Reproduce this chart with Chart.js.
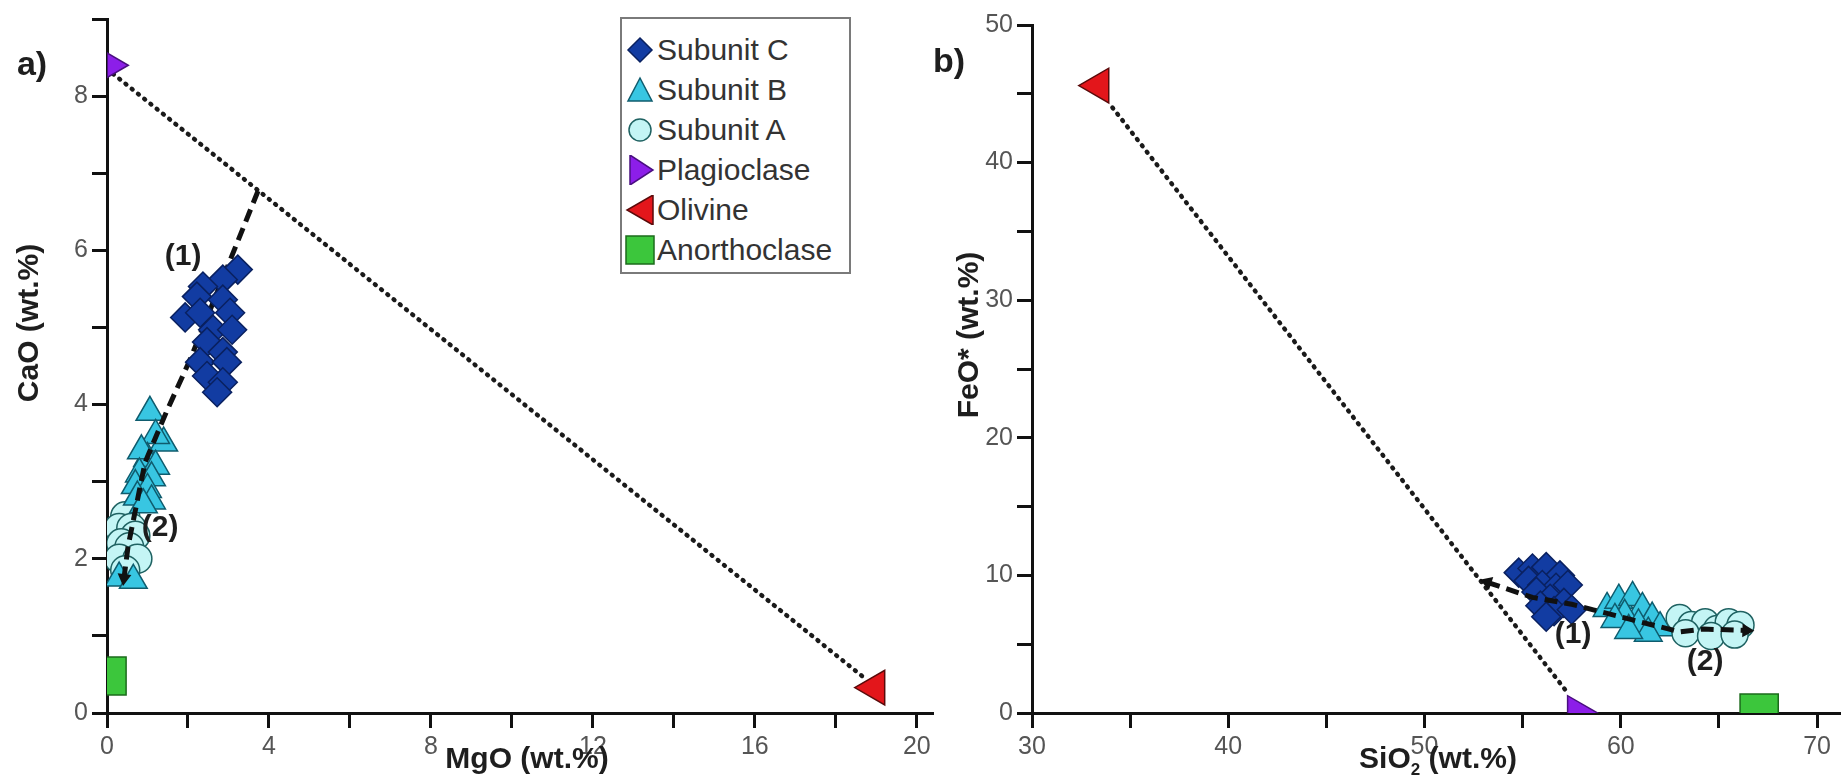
<!DOCTYPE html>
<html>
<head>
<meta charset="utf-8">
<title>CaO vs MgO and FeO* vs SiO2</title>
<script src="https://cdn.jsdelivr.net/npm/chart.js@4.4.1/dist/chart.umd.min.js"></script>
<style>
  html, body { margin: 0; padding: 0; background: #fff; }
  body { position: relative; width: 1843px; height: 783px; overflow: hidden; font-family: "Liberation Sans", Arial, sans-serif; }
  canvas { position: absolute; top: 0; }
  #chartA { left: 0; }
  #chartB { left: 900px; }
  #legend { position: absolute; left: 620px; top: 17px; width: 231px; height: 257px; box-sizing: border-box;
            border: 2px solid #7a7a7a; background: #fff; padding-top: 11px; }
  .row { height: 40px; display: flex; align-items: center; font-size: 30px; color: #333; white-space: nowrap; }
  .row svg { width: 30px; height: 30px; margin-left: 3px; margin-right: 2px; flex: none; }
</style>
</head>
<body>
<canvas id="chartA" width="940" height="783"></canvas>
<canvas id="chartB" width="943" height="783"></canvas>
<div id="legend"></div>
<script>
// ---- panel a) CaO vs MgO (wt.%) ----
const subC_MgO = [3.23, 2.86, 2.37, 2.22, 2.86, 1.93, 2.30, 3.04, 2.62, 3.09, 2.47, 2.86, 2.30, 2.96, 2.47, 2.86, 2.72];
const subC_CaO = [5.75, 5.62, 5.53, 5.40, 5.36, 5.13, 5.19, 5.19, 4.97, 4.97, 4.81, 4.68, 4.55, 4.55, 4.37, 4.29, 4.16];
const subB_MgO = [1.06, 1.40, 1.20, 1.00, 0.85, 1.20, 0.80, 1.10, 0.70, 1.00, 0.75, 1.10, 0.90, 0.30, 0.65];
const subB_CaO = [3.90, 3.50, 3.60, 3.30, 3.40, 3.20, 3.10, 3.05, 2.95, 2.90, 2.80, 2.75, 2.70, 1.75, 1.72];
const subA_MgO = [0.45, 0.30, 0.60, 0.70, 0.35, 0.55, 0.30, 0.75, 0.45];
const subA_CaO = [2.55, 2.40, 2.40, 2.30, 2.20, 2.15, 2.00, 2.00, 1.85];
const minerals = ["Plagioclase", "Olivine", "Anorthoclase"];
const mineral_MgO = [0.18, 18.96, 0];
const mineral_CaO = [8.40, 0.33, 0.48];
const mixA_MgO = [0.15, 18.67];
const mixA_CaO = [8.29, 0.47];
const trendA_MgO = [3.73, 2.05, 1.48, 0.94, 0.52, 0.42];
const trendA_CaO = [6.77, 4.58, 3.92, 3.25, 2.16, 1.75];
const notesA = ["(1)", "(2)"];
const notesA_MgO = [1.88, 1.31];
const notesA_CaO = [5.92, 2.40];
const mgoTicks = [0, 2, 4, 6, 8, 10, 12, 14, 16, 18, 20];
const mgoLabels = [0, 4, 8, 12, 16, 20];
const caoTicks = [0, 1, 2, 3, 4, 5, 6, 7, 8, 9];
const caoLabels = [0, 2, 4, 6, 8];

// ---- panel b) FeO* vs SiO2 (wt.%) ----
const subC_SiO2 = [54.8, 55.5, 56.2, 56.9, 55.3, 56.0, 56.7, 57.3, 55.7, 56.4, 57.1, 55.9, 56.6, 57.5, 56.2];
const subC_FeO = [10.2, 10.5, 10.6, 10.0, 9.6, 9.3, 9.1, 9.3, 8.8, 8.3, 8.0, 7.8, 7.4, 7.5, 7.0];
const subB_SiO2 = [59.3, 59.9, 60.6, 61.1, 60.2, 61.6, 59.7, 60.9, 62.0, 61.4, 60.4];
const subB_FeO = [7.6, 8.2, 8.4, 7.6, 7.1, 6.9, 6.8, 6.4, 6.2, 5.8, 6.0];
const subA_SiO2 = [63.0, 63.6, 64.3, 64.9, 65.5, 66.1, 63.3, 64.6, 65.8];
const subA_FeO = [6.9, 6.4, 6.6, 6.1, 6.6, 6.4, 5.8, 5.6, 5.7];
const mineral_SiO2 = [57.8, 33.4, 67.05];
const mineral_FeO = [0, 45.6, 0];
const mixB_SiO2 = [34.1, 57.3];
const mixB_FeO = [44.0, 1.45];
const trendB_SiO2 = [53.2, 55.5, 57.5, 58.6, 60.5, 63.0, 64.2, 66.4];
const trendB_FeO = [9.5, 8.4, 7.9, 7.5, 6.8, 5.9, 6.1, 6.0];
const notesB = ["(1)", "(2)"];
const notesB_SiO2 = [57.57, 64.3];
const notesB_FeO = [5.67, 3.7];
const sio2Ticks = [30, 35, 40, 45, 50, 55, 60, 65, 70];
const sio2Labels = [30, 40, 50, 60, 70];
const feoTicks = [0, 5, 10, 15, 20, 25, 30, 35, 40, 45, 50];
const feoLabels = [0, 10, 20, 30, 40, 50];

const fontFam = '"Liberation Sans", Arial, sans-serif';
const colC = ["#123ca2", "#0a2160"];
const colB = ["#38c6e2", "#0f5c6e"];
const colA = ["#c4f5f5", "#1f6262"];
const colMin = [["#8c1ee8", "#4a0f80"], ["#e3161b", "#5a0a0a"], ["#3cc63c", "#1b6b1b"]];
const minStyle = ["triangle", "triangle", "rect"];
const minRot = [90, -90, 0];

function pts(xs, ys) {
  return xs.map(function (x, i) {
    return { x: x, y: ys[i] };
  });
}

function markers(label, data, style, col, r, rot, order, clip) {
  const ds = {
    label: label,
    data: data,
    pointStyle: style,
    pointRadius: r,
    pointRotation: rot || 0,
    backgroundColor: col[0],
    borderColor: col[1],
    pointBorderWidth: 1.5,
    order: order,
  };
  if (clip !== undefined) ds.clip = clip;
  return ds;
}

function dotted(data, order) {
  return {
    label: "mix",
    data: data,
    showLine: true,
    borderColor: "#1a1a1a",
    borderWidth: 4.5,
    borderDash: [1, 7],
    borderCapStyle: "round",
    pointRadius: 0,
    order: order,
  };
}

// thick dashed trend, arrowhead drawn as a point
function dashed(data, order, radii, rots) {
  return {
    label: "trend",
    data: data,
    showLine: true,
    borderColor: "#111",
    backgroundColor: "#111",
    borderWidth: 5,
    borderDash: [13, 7],
    pointStyle: "triangle",
    pointRadius: radii,
    pointRotation: rots,
    pointBorderWidth: 0,
    order: order,
  };
}

function axis(min, max, ticks, labels, fit) {
  return {
    type: "linear",
    min: min,
    max: max,
    afterBuildTicks: function (s) {
      s.ticks = ticks.map(function (v) {
        return { value: v };
      });
    },
    afterFit: fit,
    ticks: {
      autoSkip: false,
      maxRotation: 0,
      color: "#555",
      padding: 4,
      font: { family: fontFam, size: 25 },
      callback: function (v) {
        return labels.indexOf(v) >= 0 ? String(v) : "";
      },
    },
    grid: { drawOnChartArea: false, tickLength: 15, tickWidth: 3, tickColor: "#111" },
    border: { display: true, color: "#111", width: 3 },
  };
}

// title made of parts, some of them subscript
function drawParts(ctx, parts, cx, cy) {
  const big = "bold 30px " + fontFam;
  const small = "bold 17px " + fontFam;
  let w = 0;
  parts.forEach(function (p) {
    ctx.font = p[1] ? small : big;
    w += ctx.measureText(p[0]).width;
  });
  let x = cx - w / 2;
  ctx.textAlign = "left";
  parts.forEach(function (p) {
    ctx.font = p[1] ? small : big;
    ctx.fillText(p[0], x, p[1] ? cy + 10 : cy);
    x += ctx.measureText(p[0]).width;
  });
}

const textPlugin = {
  id: "panelText",
  afterDraw: function (chart, args, o) {
    const ctx = chart.ctx;
    const xs = chart.scales.x;
    const ys = chart.scales.y;
    ctx.save();
    ctx.fillStyle = "#1e1e1e";
    ctx.textAlign = "center";
    ctx.textBaseline = "middle";
    ctx.font = "bold 30px " + fontFam;
    o.notes.forEach(function (n, i) {
      ctx.fillText(n, xs.getPixelForValue(o.noteX[i]), ys.getPixelForValue(o.noteY[i]));
    });
    ctx.font = "bold 34px " + fontFam;
    ctx.fillText(o.panel, o.panelPos[0], o.panelPos[1]);
    drawParts(ctx, o.xTitle, o.xTitlePos[0], o.xTitlePos[1]);
    ctx.translate(o.yTitlePos[0], o.yTitlePos[1]);
    ctx.rotate(-Math.PI / 2);
    drawParts(ctx, o.yTitle, 0, 0);
    ctx.restore();
  },
};

function baseOptions(scales, padding, texts) {
  return {
    responsive: false,
    animation: false,
    layout: { padding: padding, autoPadding: false },
    scales: scales,
    plugins: {
      legend: { display: false },
      tooltip: { enabled: false },
      panelText: texts,
    },
  };
}

// ---- chart a ----
const dataA = [
  markers(minerals[2], [{ x: mineral_MgO[2], y: mineral_CaO[2] }], minStyle[2], colMin[2], 27, minRot[2], 0, 0),
  markers(minerals[1], [{ x: mineral_MgO[1], y: mineral_CaO[1] }], minStyle[1], colMin[1], 20, minRot[1], 1),
  markers(minerals[0], [{ x: mineral_MgO[0], y: mineral_CaO[0] }], minStyle[0], colMin[0], 14, minRot[0], 2),
  markers("Subunit C", pts(subC_MgO, subC_CaO), "rectRot", colC, 14.5, 0, 3),
  dashed(pts(trendA_MgO, trendA_CaO), 4, [0, 0, 0, 0, 0, 8], [0, 0, 0, 0, 0, 187]),
  markers("Subunit B", pts(subB_MgO, subB_CaO), "triangle", colB, 16, 0, 5),
  markers("Subunit A", pts(subA_MgO, subA_CaO), "circle", colA, 14.5, 0, 6),
  dotted(pts(mixA_MgO, mixA_CaO), 7),
];

new Chart(document.getElementById("chartA"), {
  type: "scatter",
  data: { datasets: dataA },
  options: baseOptions(
    {
      x: axis(0, 20.4, mgoTicks, mgoLabels, function (s) { s.height = 70; }),
      y: axis(0, 9, caoTicks, caoLabels, function (s) { s.width = 107; }),
    },
    { top: 18, right: 7, bottom: 0, left: 0 },
    {
      notes: notesA, noteX: notesA_MgO, noteY: notesA_CaO,
      panel: "a)", panelPos: [32, 66],
      xTitle: [["MgO (wt.%)", false]], xTitlePos: [527, 760],
      yTitle: [["CaO (wt.%)", false]], yTitlePos: [30, 323],
    }
  ),
  plugins: [textPlugin],
});

// ---- chart b ----
const dataB = [
  dashed(pts(trendB_SiO2, trendB_FeO), 0, [8, 0, 0, 0, 0, 0, 0, 8], [288, 0, 0, 0, 0, 0, 0, 92]),
  markers(minerals[2], [{ x: mineral_SiO2[2], y: mineral_FeO[2] }], minStyle[2], colMin[2], 27, minRot[2], 1, 0),
  markers(minerals[1], [{ x: mineral_SiO2[1], y: mineral_FeO[1] }], minStyle[1], colMin[1], 20, minRot[1], 2),
  markers(minerals[0], [{ x: mineral_SiO2[0], y: mineral_FeO[0] }], minStyle[0], colMin[0], 20, minRot[0], 3, 0),
  markers("Subunit A", pts(subA_SiO2, subA_FeO), "circle", colA, 13.5, 0, 4),
  markers("Subunit B", pts(subB_SiO2, subB_FeO), "triangle", colB, 16, 0, 5),
  markers("Subunit C", pts(subC_SiO2, subC_FeO), "rectRot", colC, 14.5, 0, 6),
  dotted(pts(mixB_SiO2, mixB_FeO), 7),
];

new Chart(document.getElementById("chartB"), {
  type: "scatter",
  data: { datasets: dataB },
  options: baseOptions(
    {
      x: axis(30, 71.2, sio2Ticks, sio2Labels, function (s) { s.height = 70; }),
      y: axis(0, 50, feoTicks, feoLabels, function (s) { s.width = 132; }),
    },
    { top: 25, right: 2.4, bottom: 0, left: 0 },
    {
      notes: notesB, noteX: notesB_SiO2, noteY: notesB_FeO,
      panel: "b)", panelPos: [49, 63],
      xTitle: [["SiO", false], ["2", true], [" (wt.%)", false]], xTitlePos: [538, 760],
      yTitle: [["FeO* (wt.%)", false]], yTitlePos: [70, 335],
    }
  ),
  plugins: [textPlugin],
});

// ---- legend box ----
const legendNames = ["Subunit C", "Subunit B", "Subunit A", "Plagioclase", "Olivine", "Anorthoclase"];
const legendCols = [colC, colB, colA, colMin[0], colMin[1], colMin[2]];
const legendShapes = [
  '<polygon points="15,3 27,15 15,27 3,15"',
  '<polygon points="15,3 27,26 3,26"',
  '<circle cx="15" cy="15" r="11"',
  '<polygon points="5,0 28,15 5,30"',
  '<polygon points="28,0 28,30 2,15"',
  '<rect x="1" y="1" width="28" height="28"',
];
let html = "";
for (let i = 0; i < legendNames.length; i++) {
  html +=
    '<div class="row"><svg viewBox="0 0 30 30">' +
    legendShapes[i] +
    ' fill="' + legendCols[i][0] + '" stroke="' + legendCols[i][1] + '" stroke-width="1.5"/></svg>' +
    "<span>" + legendNames[i] + "</span></div>";
}
document.getElementById("legend").innerHTML = html;
</script>
</body>
</html>
